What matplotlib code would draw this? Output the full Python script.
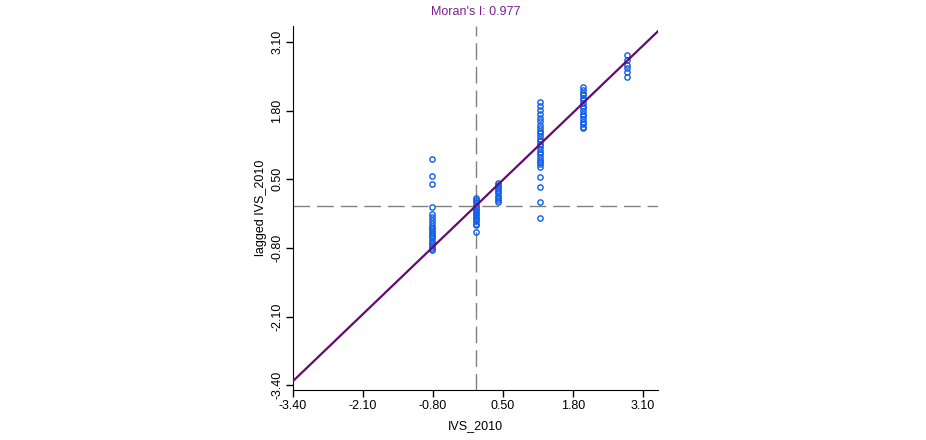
import matplotlib.pyplot as plt
import numpy as np

moran_i = 0.977
tick_vals = [-3.40, -2.10, -0.80, 0.50, 1.80, 3.10]

# standardized values grouped by x
x_groups = [-0.81, 0.0, 0.40, 1.18, 1.99, 2.80]
y_groups = [
    [0.89, 0.56, 0.41, -0.03, -0.15, -0.21, -0.27, -0.33, -0.38, -0.42, -0.46,
     -0.50, -0.54, -0.58, -0.62, -0.66, -0.70, -0.74, -0.78, -0.82, -0.84],
    [0.14, 0.10, 0.06, 0.02, -0.02, -0.06, -0.10, -0.14, -0.18, -0.22, -0.26,
     -0.30, -0.34, -0.37, -0.50],
    [0.43, 0.39, 0.35, 0.31, 0.27, 0.23, 0.19, 0.15, 0.11, 0.07],
    [1.97, 1.89, 1.81, 1.73, 1.66, 1.60, 1.52, 1.47, 1.42, 1.37, 1.32, 1.27,
     1.22, 1.17, 1.12, 1.07, 1.02, 0.97, 0.92, 0.87, 0.82, 0.78, 0.74, 0.55,
     0.36, 0.07, -0.24],
    [2.24, 2.19, 2.14, 2.09, 2.04, 1.99, 1.94, 1.89, 1.84, 1.79, 1.74, 1.69,
     1.64, 1.59, 1.54, 1.49, 1.46],
    [2.85, 2.76, 2.67, 2.60, 2.52, 2.44],
]

xs = np.concatenate([[x] * len(ys) for x, ys in zip(x_groups, y_groups)])
ys = np.concatenate(y_groups)

plt.rcParams['font.family'] = ['Liberation Sans', 'DejaVu Sans']

fig = plt.figure(figsize=(9.26, 4.40), dpi=100)
ax = fig.add_axes([0.3164, 0.1136, 0.3942, 0.8273])

xlim = (-3.40, 3.38)
ylim = (-3.49, 3.40)

ax.axvline(0, color="#808080", linewidth=1, dashes=(12, 5), zorder=1)
ax.axhline(0, color="#808080", linewidth=1, dashes=(12, 5), zorder=1)

ax.plot(xs, ys, 'o', markersize=3.8, markerfacecolor='none',
        markeredgecolor='#0d5ee8', markeredgewidth=1, zorder=2)

line_x = np.array(xlim)
ax.plot(line_x, moran_i * line_x, color="#640a70", linewidth=1.6, zorder=3)

ax.set_xlim(xlim)
ax.set_ylim(ylim)
ax.set_xticks(tick_vals)
ax.set_yticks(tick_vals)
ax.set_xticklabels([f"{v:.2f}" for v in tick_vals], fontsize=9)
ax.set_yticklabels([f"{v:.2f}" for v in tick_vals], fontsize=9,
                   rotation=90, va='center')
ax.tick_params(length=5, width=1, pad=2)

ax.spines['top'].set_visible(False)
ax.spines['right'].set_visible(False)

ax.set_xlabel("IVS_2010", fontsize=9, labelpad=6)
ax.set_ylabel("lagged IVS_2010", fontsize=9, labelpad=3)
ax.set_title(f"Moran's I: {moran_i}", fontsize=9, color="#7a2090", pad=8)

fig.savefig("out.png", dpi=100)
